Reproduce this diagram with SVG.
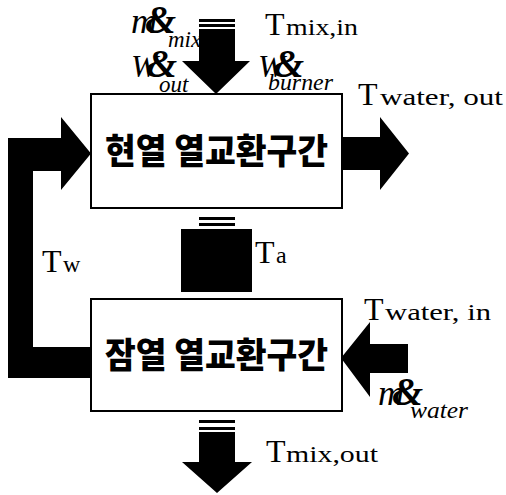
<svg xmlns="http://www.w3.org/2000/svg" width="506" height="495" viewBox="0 0 506 495">
<style>
.box{fill:#fff;stroke:#000;stroke-width:2}
.kr{font-family:"Noto Sans CJK KR","Noto Sans",sans-serif;font-weight:900;font-size:35px;fill:#000}
.T{font-family:"Liberation Serif",serif;font-size:32px;fill:#000}
.s{font-family:"Liberation Serif",serif;font-size:24px;fill:#000}
.it{font-family:"Liberation Serif",serif;font-style:italic;fill:#000}
.amp{font-weight:bold;font-size:40px}
.a{fill:#000;stroke:none}
</style>
<rect width="506" height="495" fill="#fff"/>
<g id="connectors">
  <rect class="a" x="199" y="19" width="36" height="3"/>
  <rect class="a" x="199" y="24" width="36" height="3"/>
  <polygon class="a" points="199,29 235,29 235,61 250,61 216,94 182,61 199,61"/>
  <polygon class="a" points="342,137 380,137 380,117 409,153.5 380,190 380,170 342,170"/>
  <polygon class="a" points="91,347 33,347 33,171 61,171 61,190 91,153.5 61,117 61,138 8,138 8,378 91,378"/>
  <rect class="a" x="199" y="217" width="36" height="3"/>
  <rect class="a" x="199" y="223" width="36" height="3"/>
  <rect class="a" x="181" y="229" width="71" height="63"/>
  <polygon class="a" points="408,344 370,344 370,322 341,358 370,397 370,373 408,373"/>
  <rect class="a" x="199" y="420" width="36" height="3"/>
  <rect class="a" x="199" y="427" width="36" height="3"/>
  <polygon class="a" points="199,432 235,432 235,462 252,462 217,493 182,462 199,462"/>
</g>
<g id="sensible">
  <rect class="box" x="91" y="94" width="251" height="114"/>
  <text class="kr" x="216.5" y="164" text-anchor="middle" textLength="223" lengthAdjust="spacingAndGlyphs">현열 열교환구간</text>
</g>
<g id="latent">
  <rect class="box" x="91" y="299" width="251" height="112"/>
  <text class="kr" x="216.5" y="368" text-anchor="middle" textLength="223" lengthAdjust="spacingAndGlyphs">잠열 열교환구간</text>
</g>
<g id="labels">
  <text x="265" y="35"><tspan class="T">T</tspan><tspan class="s" x="286" textLength="72" lengthAdjust="spacingAndGlyphs">mix,in</tspan></text>
  <text x="358" y="105"><tspan class="T">T</tspan><tspan class="s" x="380" textLength="123" lengthAdjust="spacingAndGlyphs">water, out</tspan></text>
  <text x="255" y="263"><tspan class="T">T</tspan><tspan class="s" x="276">a</tspan></text>
  <text x="42" y="272"><tspan class="T">T</tspan><tspan class="s" x="63">w</tspan></text>
  <text x="364" y="320"><tspan class="T">T</tspan><tspan class="s" x="385" textLength="106" lengthAdjust="spacingAndGlyphs">water, in</tspan></text>
  <text x="266" y="462"><tspan class="T">T</tspan><tspan class="s" x="286" textLength="92" lengthAdjust="spacingAndGlyphs">mix,out</tspan></text>
  <text class="it" x="131" y="33"><tspan font-size="36">m</tspan><tspan class="amp" x="145">&amp;</tspan><tspan font-size="23" x="168" y="47">mix</tspan></text>
  <text class="it" x="131" y="77"><tspan font-size="32">W</tspan><tspan class="amp" x="146">&amp;</tspan><tspan font-size="23" x="159" y="92">out</tspan></text>
  <text class="it" x="258" y="77"><tspan font-size="32">W</tspan><tspan class="amp" x="273">&amp;</tspan><tspan font-size="23" x="268" y="90" textLength="65" lengthAdjust="spacingAndGlyphs">burner</tspan></text>
  <text class="it" x="378" y="405"><tspan font-size="36">m</tspan><tspan class="amp" x="392">&amp;</tspan><tspan font-size="23" x="410" y="418" textLength="58" lengthAdjust="spacingAndGlyphs">water</tspan></text>
</g>
</svg>
